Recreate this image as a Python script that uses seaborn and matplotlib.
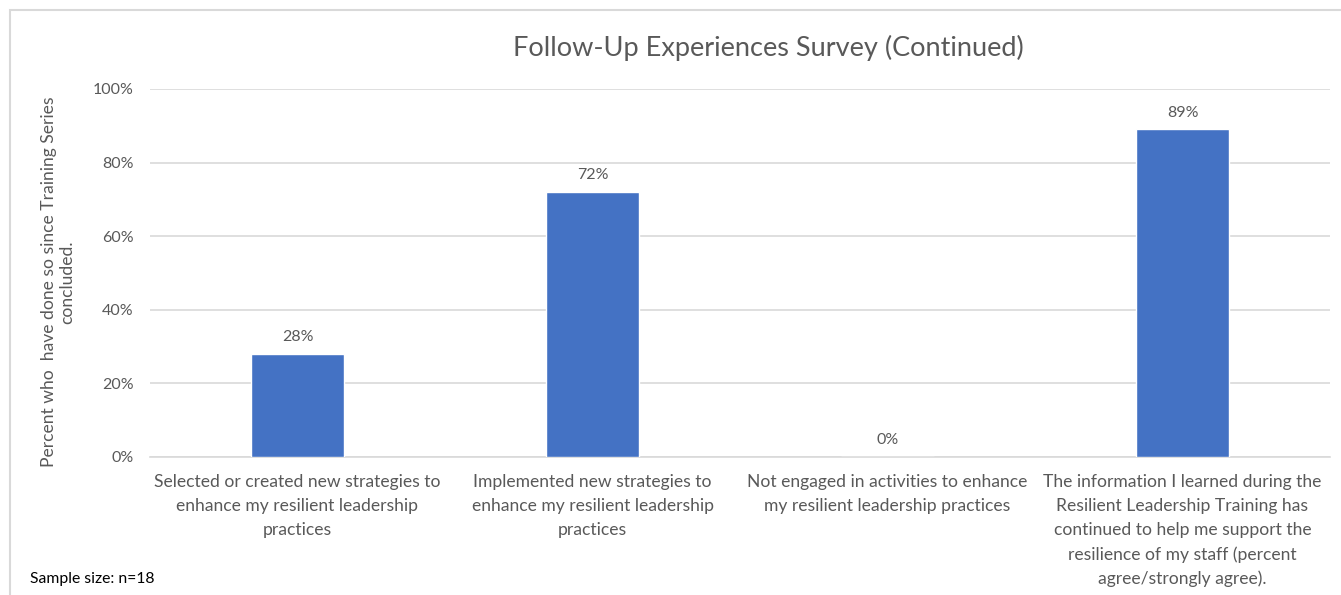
import matplotlib
matplotlib.use("Agg")
import matplotlib.pyplot as plt
import seaborn as sns
import pandas as pd
from matplotlib.patches import Rectangle
from matplotlib.ticker import PercentFormatter

categories = [
    "Selected or created new strategies to\nenhance my resilient leadership\npractices",
    "Implemented new strategies to\nenhance my resilient leadership\npractices",
    "Not engaged in activities to enhance\nmy resilient leadership practices",
    "The information I learned during the\nResilient Leadership Training has\ncontinued to help me support the\nresilience of my staff (percent\nagree/strongly agree).",
]
values = [28, 72, 0, 89]
y_ticks = [0, 20, 40, 60, 80, 100]

title = "Follow-Up Experiences Survey (Continued)"
y_label = "Percent who  have done so since Training Series\nconcluded."
note = "Sample size: n=18"

bar_color = "#4472C4"
text_gray = "#595959"
grid_gray = "#D9D9D9"

sns.set_theme(style="white")
plt.rcParams["font.family"] = ["Lato", "DejaVu Sans"]

df = pd.DataFrame({"category": categories, "value": values})

fig = plt.figure(figsize=(13.41, 5.95), dpi=100)
ax = fig.add_axes([150 / 1341, 1 - 457 / 595, 1180 / 1341, (457 - 89) / 595])

sns.barplot(data=df, x="category", y="value", color=bar_color, width=0.315,
            saturation=1, ax=ax, zorder=3)

ax.set_ylim(0, 100)
ax.set_yticks(y_ticks)
ax.yaxis.set_major_formatter(PercentFormatter(decimals=0))
ax.grid(axis="y", color=grid_gray, linewidth=1.2, zorder=0)
ax.set_axisbelow(True)
for side in ["top", "right", "left"]:
    ax.spines[side].set_visible(False)
ax.spines["bottom"].set_color(grid_gray)
ax.spines["bottom"].set_linewidth(1.2)

ax.tick_params(axis="y", length=0, pad=12, labelsize=11.5, labelcolor=text_gray)
ax.tick_params(axis="x", length=0, pad=12.5, labelsize=12.6, labelcolor=text_gray)
for lbl in ax.get_xticklabels():
    lbl.set_linespacing(1.6)

ax.set_xlabel("")
ax.set_ylabel(y_label, fontsize=12.6, color=text_gray, linespacing=1.2, va="center")
ax.yaxis.set_label_coords((58 - 150) / 1180, (457 - 282) / 368)

ax.bar_label(ax.containers[0], labels=[f"{v}%" for v in values], padding=7,
             fontsize=11.5, color=text_gray)

fig.text(768 / 1341, 1 - 48 / 595, title, ha="center", va="center",
         fontsize=19.5, color=text_gray)
fig.text(30 / 1341, 1 - 579 / 595, note, ha="left", va="center",
         fontsize=11.3, color="#000000")

# chart frame
fig.patches.append(Rectangle((10 / 1341, -0.1), 2.0, 1.1 - 10 / 595,
                             transform=fig.transFigure, fill=False,
                             edgecolor=grid_gray, linewidth=1.5))

fig.savefig("out.png", dpi=100)
